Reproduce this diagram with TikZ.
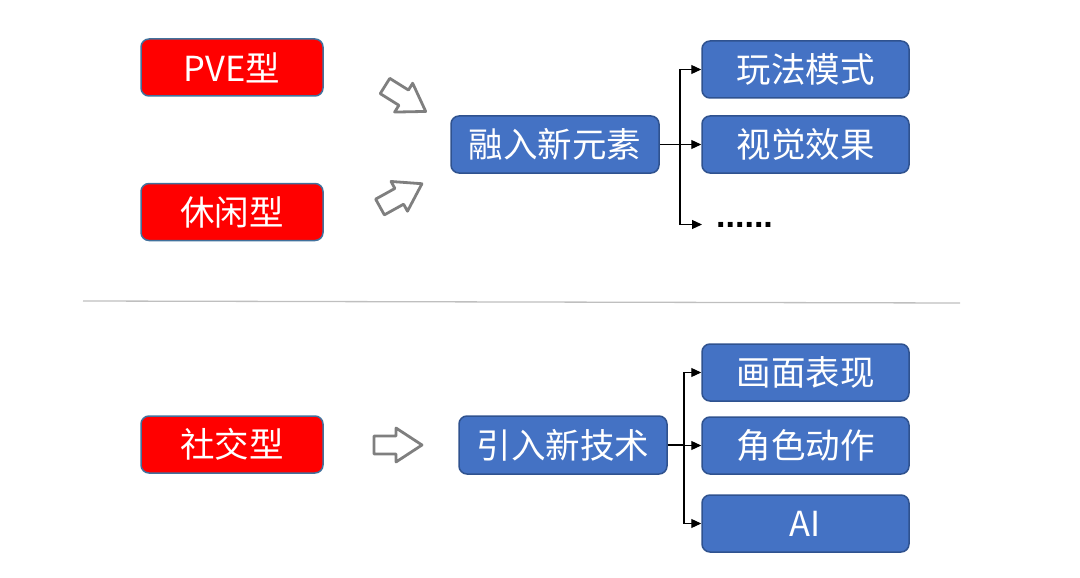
\documentclass[tikz,border=0pt]{standalone}
\usepackage{fontspec}
\setmainfont{Noto Sans CJK SC}
\usetikzlibrary{arrows.meta}
\definecolor{boxedge}{HTML}{41719C}
\definecolor{boxblue}{HTML}{4472C4}
\definecolor{blueedge}{HTML}{2F528F}
\definecolor{arrgray}{HTML}{7F7F7F}
\definecolor{sepgray}{HTML}{BFBFBF}
\begin{document}
\begin{tikzpicture}[x=1pt,y=-1pt,
  basebox/.style={rounded corners=8pt,minimum height=57pt,text=white,
    font=\fontsize{34.5}{34.5}\selectfont,line width=1.5pt,inner sep=0pt},
  redbox/.style={basebox,draw=boxedge,fill=red,minimum width=182pt},
  bluebox/.style={basebox,draw=blueedge,fill=boxblue,minimum width=207pt},
  conn/.style={draw=black,line width=1.2pt,-{Triangle[length=10pt,width=9pt]}},
  plainline/.style={draw=black,line width=1.2pt},
  harrow/.pic={\draw[draw=arrgray,line width=2.8pt,fill=white,line join=round]
    (0,-9)--(22,-9)--(22,-17)--(48,0)--(22,17)--(22,9)--(0,9)--cycle;}
]
\useasboundingbox (0,0) rectangle (1080,578);

% separator
\draw[sepgray,line width=1.3pt] (83,301) -- (960,303);

% left boxes
\node[redbox] (pve) at (232,67.5) {PVE型};
\node[redbox] (xx) at (232,212) {休闲型};
\node[redbox] (sj) at (232,444.5) {社交型};

% hollow arrows
\pic[rotate=-32] at (385,86) {harrow};
\pic[rotate=29] at (380,207) {harrow};
\pic at (374,445) {harrow};

% middle boxes
\node[bluebox,minimum width=208pt] (rr) at (555,144.5) {融入新元素};
\node[bluebox,minimum width=208pt,minimum height=58pt] (yr) at (563,445) {引入新技术};

% right boxes
\node[bluebox] (wf) at (805.5,69.5) {玩法模式};
\node[bluebox] (sjx) at (805.5,144.5) {视觉效果};
\node[anchor=base west,inner sep=0pt,font=\fontspec{Liberation Sans}\bfseries\fontsize{34}{34}\selectfont] (dots) at (716,227) {......};
\node[bluebox] (hm) at (805.5,372.5) {画面表现};
\node[bluebox] (js) at (805.5,445.5) {角色动作};
\node[bluebox] (ai) at (805.5,523.5) {AI};

% upper connectors
\coordinate (b1) at (680,144.5);
\draw[plainline] (rr.east) -- (b1);
\draw[conn] (b1) |- (wf.west);
\draw[conn] (b1) -- (sjx.west);
\draw[conn] (b1) |- ([xshift=-14pt,yshift=2.5pt]dots.base west);

% lower connectors
\coordinate (b2) at (684,445);
\draw[plainline] (yr.east) -- (b2);
\draw[conn] (b2) |- (hm.west);
\draw[conn] (b2) |- (js.west);
\draw[conn] (b2) |- (ai.west);
\end{tikzpicture}
\end{document}
